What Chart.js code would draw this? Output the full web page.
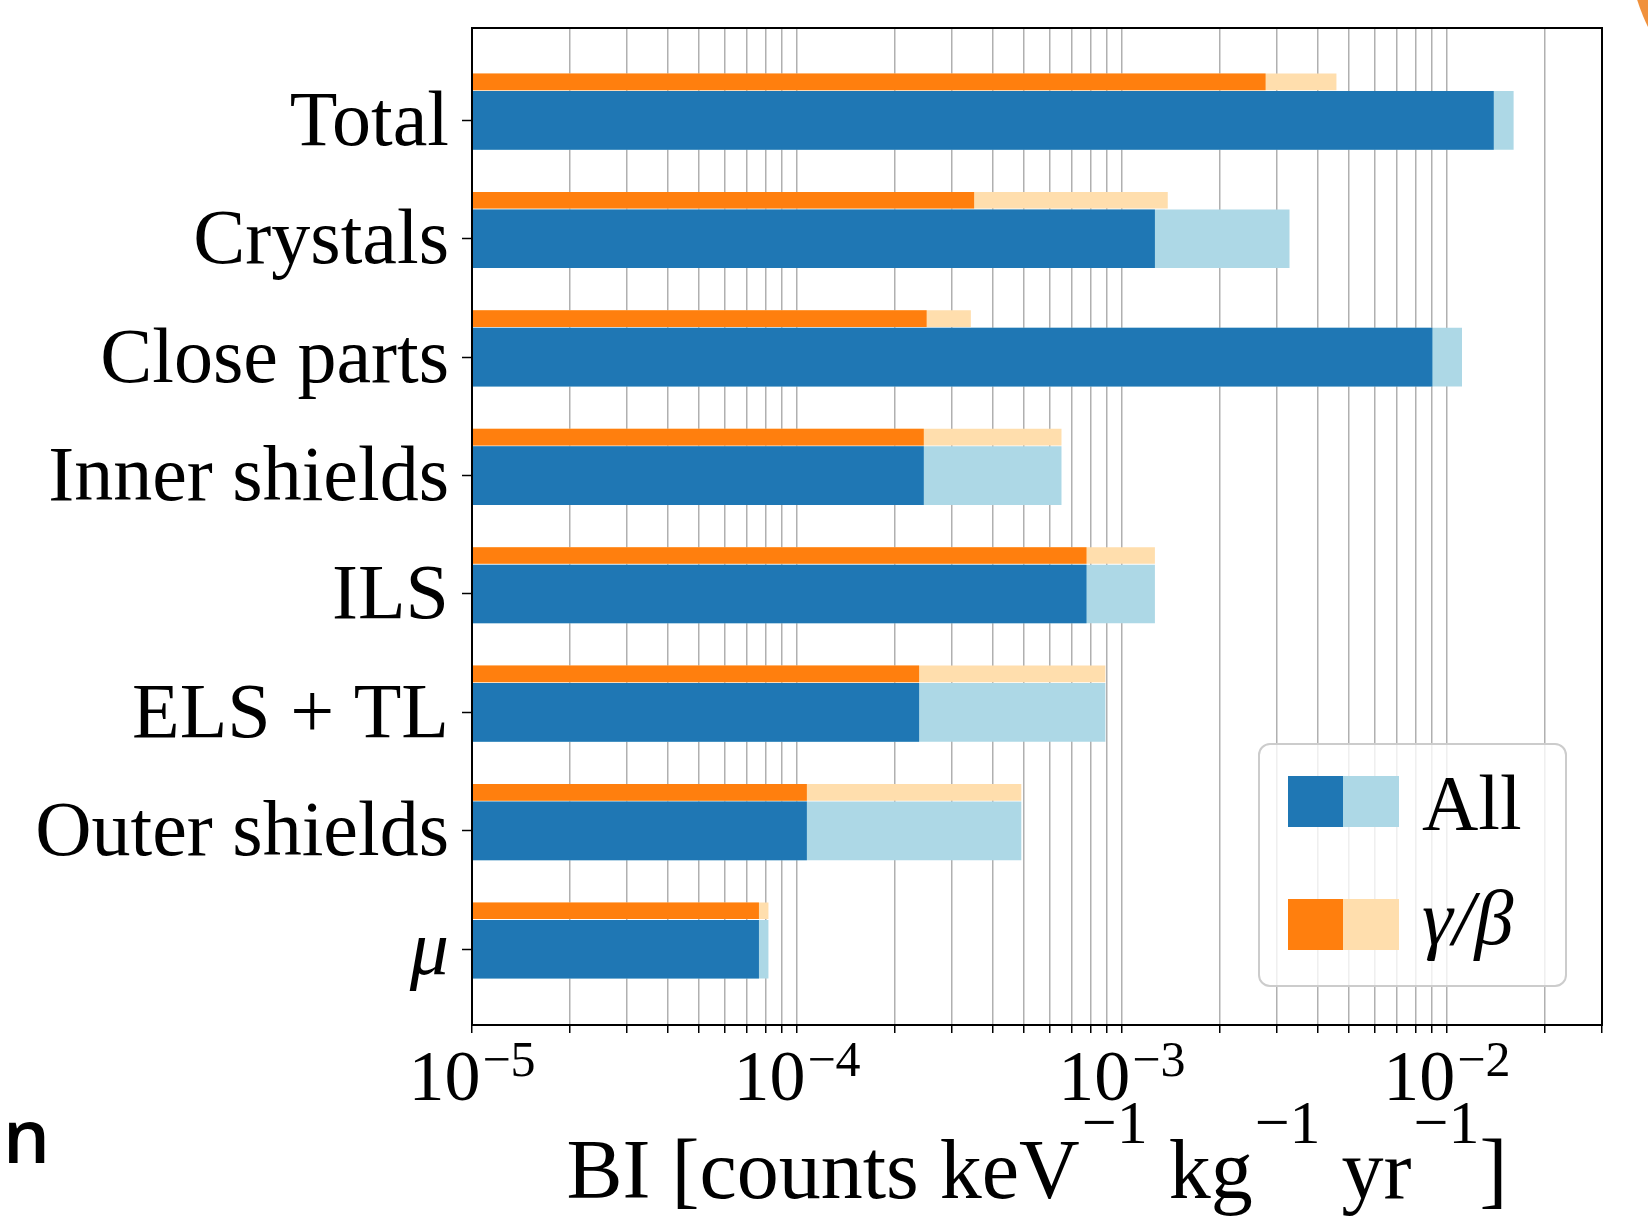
<!DOCTYPE html>
<html>
<head>
<meta charset="utf-8">
<script src="https://cdn.jsdelivr.net/npm/chart.js@4.4.1/dist/chart.umd.min.js"></script>
<style>
  html, body { margin: 0; padding: 0; background: #fff; overflow: hidden; }
  #wrap { position: relative; width: 1648px; height: 1216px; overflow: hidden; }
  #bi_chart { position: absolute; left: 0; top: 0; }
  .corner { position: absolute; left: 1628px; top: -260px; width: 400px; height: 400px; border-radius: 50%; background: #f0913c; }
  .stray { position: absolute; left: 3px; top: 1098px; font: 600 74px "Open Sans", sans-serif; line-height: 74px; color: #000; }
</style>
</head>
<body>
<div id="wrap">
  <canvas id="bi_chart" width="1648" height="1216"></canvas>
  <div class="corner"></div>
  <div class="stray">n</div>
</div>
<script>
// categories, top to bottom
const categories = ['Total', 'Crystals', 'Close parts', 'Inner shields', 'ILS', 'ELS + TL', 'Outer shields', 'μ'];

// BI values [counts keV^-1 kg^-1 yr^-1]
const all_dark  = [1.39e-2, 1.26e-3, 9.0e-3, 2.45e-4, 7.76e-4, 2.37e-4, 1.07e-4, 7.62e-5];
const all_light = [1.60e-2, 3.27e-3, 1.11e-2, 6.5e-4, 1.26e-3, 8.87e-4, 4.89e-4, 8.15e-5];
const gb_dark   = [2.76e-3, 3.5e-4, 2.5e-4, 2.45e-4, 7.76e-4, 2.37e-4, 1.07e-4, 7.62e-5];
const gb_light  = [4.56e-3, 1.38e-3, 3.42e-4, 6.5e-4, 1.26e-3, 8.87e-4, 4.89e-4, 8.15e-5];

// axis
const x_major = [1e-5, 1e-4, 1e-3, 1e-2];
const x_exponents = ['−5', '−4', '−3', '−2'];
const legend_labels = ['All', 'γ/β'];
const x_title = [['BI [counts keV', false], ['−1', true], [' kg', false], ['−1', true], [' yr', false], ['−1', true], [']', false]];

const XMIN = 1e-5, XMAX = 3e-2;
const SERIF = '"Liberation Serif", "DejaVu Serif", serif';
const ORANGE_SHIFT = -0.325;

// every decade gets minor ticks 2..9
const x_ticks = [];
x_major.forEach(d => {
  for (let m = 1; m <= 9; m++) {
    const v = m * d;
    if (v <= XMAX * 1.0001) x_ticks.push(v);
  }
});

function bars(values, shift) {
  return values.map((v, i) => ({ x: [XMIN, v], y: i + shift }));
}

const extras = {
  id: 'extras',
  afterDraw(chart) {
    const { ctx, chartArea: a, scales: { x } } = chart;
    ctx.save();

    // legend box
    const bw = 307, bh = 242;
    const bx = a.right - 36 - bw, by = a.bottom - 39 - bh;
    ctx.beginPath();
    ctx.roundRect(bx, by, bw, bh, 11);
    ctx.fillStyle = 'rgba(255,255,255,0.8)';
    ctx.fill();
    ctx.lineWidth = 2;
    ctx.strokeStyle = '#cccccc';
    ctx.stroke();
    const swatches = [['#1f77b4', '#add8e6'], ['#ff7f0e', '#ffdead']];
    legend_labels.forEach((lab, i) => {
      const sy = by + 32 + i * 123;
      ctx.fillStyle = swatches[i][0];
      ctx.fillRect(bx + 29, sy, 55, 51);
      ctx.fillStyle = swatches[i][1];
      ctx.fillRect(bx + 84, sy, 56, 51);
      ctx.font = (i === 1 ? 'italic ' : '') + '78px ' + SERIF;
      ctx.fillStyle = '#000';
      ctx.textAlign = 'left';
      ctx.textBaseline = 'alphabetic';
      const m = ctx.measureText(lab);
      const base = sy + 25.5 + (m.actualBoundingBoxAscent - m.actualBoundingBoxDescent) / 2;
      ctx.fillText(lab, bx + 163, base);
    });

    // frame
    ctx.strokeStyle = '#000';
    ctx.lineWidth = 2;
    ctx.strokeRect(a.left, a.top, a.right - a.left, a.bottom - a.top);

    // x tick labels 10^k
    ctx.fillStyle = '#000';
    ctx.textAlign = 'left';
    ctx.textBaseline = 'alphabetic';
    x_major.forEach((v, i) => {
      const cx = x.getPixelForValue(v);
      ctx.font = '72px ' + SERIF;
      const w1 = ctx.measureText('10').width;
      ctx.font = '50px ' + SERIF;
      const w2 = ctx.measureText(x_exponents[i]).width;
      const left = cx - (w1 + 2 + w2) / 2;
      ctx.font = '72px ' + SERIF;
      ctx.fillText('10', left, a.bottom + 75);
      ctx.font = '50px ' + SERIF;
      ctx.fillText(x_exponents[i], left + w1 + 2, a.bottom + 51);
    });

    // x axis title
    const fonts = { false: '84px ' + SERIF, true: '62px ' + SERIF };
    let total = 0;
    x_title.forEach(([t, sup]) => { ctx.font = fonts[sup]; total += ctx.measureText(t).width + (sup ? 2 : 0); });
    let px = (a.left + a.right) / 2 - total / 2;
    x_title.forEach(([t, sup]) => {
      ctx.font = fonts[sup];
      ctx.fillText(t, px + (sup ? 2 : 0), a.bottom + (sup ? 118 : 173));
      px += ctx.measureText(t).width + (sup ? 2 : 0);
    });

    ctx.restore();
  }
};

const biCtx = document.getElementById('bi_chart').getContext('2d');
const biChart = new Chart(biCtx, {
  type: 'bar',
  data: {
    datasets: [
      { label: 'All', data: bars(all_dark, 0), backgroundColor: '#1f77b4', barThickness: 58, order: 0 },
      { label: 'All (total)', data: bars(all_light, 0), backgroundColor: '#add8e6', barThickness: 58, order: 1 },
      { label: 'γ/β', data: bars(gb_dark, ORANGE_SHIFT), backgroundColor: '#ff7f0e', barThickness: 16, order: 0 },
      { label: 'γ/β (total)', data: bars(gb_light, ORANGE_SHIFT), backgroundColor: '#ffdead', barThickness: 16, order: 1 }
    ]
  },
  options: {
    indexAxis: 'y',
    responsive: false,
    animation: false,
    datasets: { bar: { grouped: false, borderWidth: 0 } },
    layout: { padding: { top: 28, right: 46, bottom: 183, left: 0 } },
    plugins: { legend: { display: false }, tooltip: { enabled: false } },
    scales: {
      x: {
        type: 'logarithmic',
        min: XMIN,
        max: XMAX,
        offset: false,
        afterBuildTicks: s => { s.ticks = x_ticks.map(v => ({ value: v })); },
        ticks: { display: false },
        grid: { offset: false, color: '#b0b0b0', lineWidth: 1.5, drawTicks: true, tickLength: 8, tickColor: '#000', tickWidth: 1.5 },
        border: { display: false }
      },
      y: {
        type: 'linear',
        min: -0.78,
        max: 7.64,
        reverse: true,
        offset: false,
        afterBuildTicks: s => { s.ticks = categories.map((c, i) => ({ value: i })); },
        afterFit: s => { s.width = 472; s.paddingTop = 0; s.paddingBottom = 0; },
        ticks: {
          autoSkip: false,
          padding: 13,
          labelOffset: 4,
          color: '#000',
          callback: v => categories[v],
          font: c => ({ family: SERIF, size: 78, style: categories[c.index] === 'μ' ? 'italic' : 'normal' })
        },
        grid: { offset: false, drawOnChartArea: false, drawTicks: true, tickLength: 10, tickColor: '#000', tickWidth: 1.5 },
        border: { display: false }
      }
    }
  },
  plugins: [extras]
});
</script>
</body>
</html>
